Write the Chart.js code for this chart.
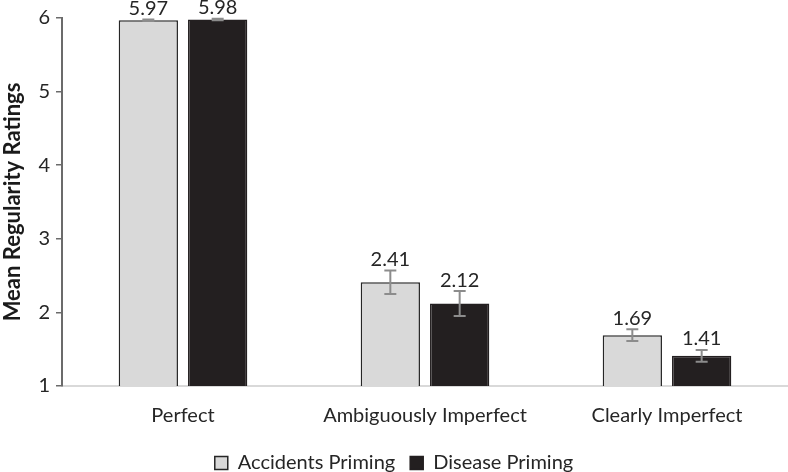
<!DOCTYPE html>
<html>
<head>
<meta charset="utf-8">
<script src="https://cdn.jsdelivr.net/npm/chart.js@4"></script>
<style>
  html, body { margin: 0; padding: 0; background: #fff; }
  #wrap { width: 788px; height: 472px; }
</style>
</head>
<body>
<div id="wrap"><canvas id="myChart"></canvas></div>
<script>
const categories = ['Perfect', 'Ambiguously Imperfect', 'Clearly Imperfect']
const accidents = [5.97, 2.41, 1.69]
const disease = [5.98, 2.12, 1.41]
const accidentsErr = [0.01, 0.16, 0.08]
const diseaseErr = [0.01, 0.17, 0.08]
const yTicks = [1, 2, 3, 4, 5, 6]

const errors = [accidentsErr, diseaseErr]
const fontFamily = 'Lato, "Open Sans", sans-serif'

// error bars + value labels, placed through the y scale
const errorBars = {
  id: 'errorBars',
  afterDatasetsDraw(chart) {
    const ctx = chart.ctx
    const y = chart.scales.y
    chart.data.datasets.forEach((ds, i) => {
      const meta = chart.getDatasetMeta(i)
      meta.data.forEach((bar, j) => {
        const v = ds.data[j]
        const e = errors[i][j]
        const top = y.getPixelForValue(v + e)
        const bot = y.getPixelForValue(v - e)
        ctx.save()
        ctx.strokeStyle = '#8c8c8c'
        ctx.lineWidth = 2
        ctx.beginPath()
        ctx.moveTo(bar.x, top)
        ctx.lineTo(bar.x, bot)
        ctx.moveTo(bar.x - 6, top)
        ctx.lineTo(bar.x + 6, top)
        ctx.moveTo(bar.x - 6, bot)
        ctx.lineTo(bar.x + 6, bot)
        ctx.stroke()
        ctx.fillStyle = '#262626'
        ctx.font = '20px ' + fontFamily
        ctx.textAlign = 'center'
        ctx.textBaseline = 'bottom'
        ctx.fillText(v.toFixed(2), bar.x, top - 1)
        ctx.restore()
      })
    })
  }
}

new Chart(document.getElementById('myChart').getContext('2d'), {
  type: 'bar',
  data: {
    labels: categories,
    datasets: [
      {
        label: 'Accidents Priming',
        data: accidents,
        backgroundColor: '#d9d9d9',
        borderColor: '#262626',
        borderWidth: 1.5
      },
      {
        label: 'Disease Priming',
        data: disease,
        backgroundColor: '#231f20',
        borderColor: '#231f20',
        borderWidth: 1.5
      }
    ]
  },
  options: {
    responsive: true,
    maintainAspectRatio: false,
    animation: false,
    categoryPercentage: 0.573,
    barPercentage: 0.855,
    layout: { padding: { top: 3, right: 0, left: 0, bottom: -11 } },
    plugins: {
      tooltip: { enabled: false },
      legend: {
        position: 'bottom',
        labels: {
          boxWidth: 13,
          boxHeight: 13,
          color: '#262626',
          padding: 15,
          font: { family: fontFamily, size: 20 }
        }
      }
    },
    scales: {
      x: {
        grid: { display: false },
        border: { color: '#d9d9d9', width: 2 },
        ticks: {
          color: '#262626',
          padding: 10,
          font: { family: fontFamily, size: 20 }
        }
      },
      y: {
        min: 1,
        max: 6,
        afterBuildTicks(axis) {
          axis.ticks = yTicks.map(v => ({ value: v }))
        },
        grid: {
          drawOnChartArea: false,
          drawTicks: true,
          tickLength: 6,
          color: '#6b6b6b',
          lineWidth: 1.5
        },
        border: { color: '#6b6b6b', width: 2 },
        ticks: {
          color: '#262626',
          padding: 6,
          font: { family: fontFamily, size: 20 }
        },
        title: {
          display: true,
          text: 'Mean Regularity Ratings',
          color: '#1a1a1a',
          padding: { top: 0, bottom: 6 },
          font: { family: fontFamily, size: 22, weight: 'bold' }
        }
      }
    }
  },
  plugins: [errorBars]
})
</script>
</body>
</html>
